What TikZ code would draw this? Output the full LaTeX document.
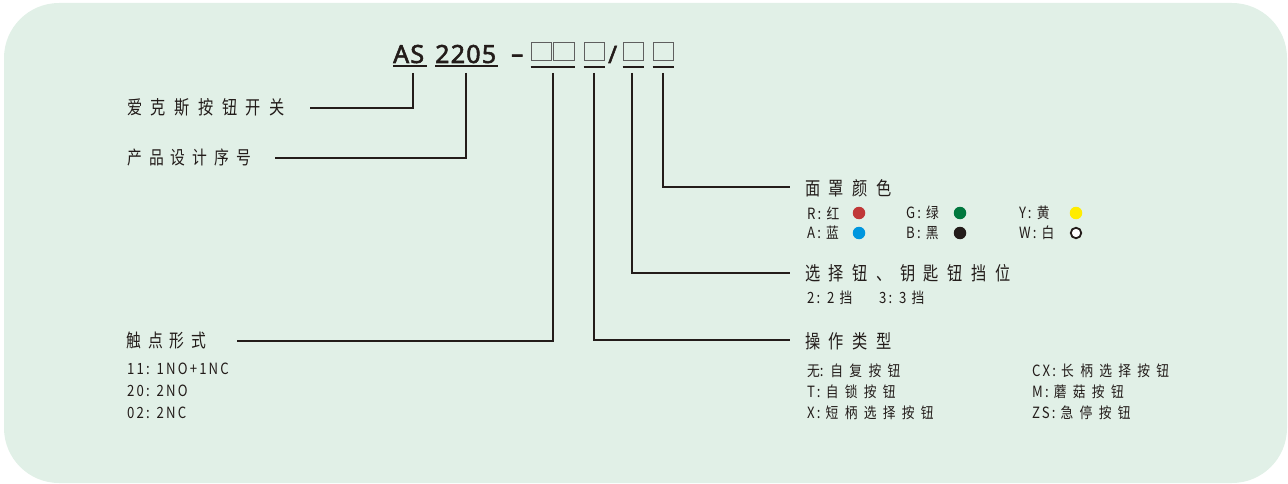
\documentclass[tikz,border=0pt]{standalone}
\usepackage{fontspec}
\setmainfont{Noto Sans CJK SC}
\newfontfamily\titlefont[FakeBold=2.2,LetterSpace=5]{Noto Sans}
\newfontfamily\bigcjk[LetterSpace=45,FakeStretch=0.8]{Noto Sans CJK SC}
\newfontfamily\midcjk[LetterSpace=38,FakeStretch=0.8]{Noto Sans CJK SC}
\newfontfamily\subL[LetterSpace=14,FakeStretch=0.85]{Noto Sans CJK SC}
\newfontfamily\subC[LetterSpace=42,FakeStretch=0.85]{Noto Sans CJK SC}
\newcommand\mylat[1]{{\subL\fontsize{15.5}{16}\selectfont #1}}
\newcommand\myhan[1]{{\subC\fontsize{15}{16}\selectfont #1}}
\usetikzlibrary{calc}
\definecolor{bg}{RGB}{225,240,231}
\definecolor{ink}{RGB}{35,28,26}
\definecolor{boxgray}{RGB}{95,95,95}
\definecolor{dred}{RGB}{192,56,56}
\definecolor{dgreen}{RGB}{0,120,62}
\definecolor{dyellow}{RGB}{255,236,0}
\definecolor{dblue}{RGB}{0,150,222}
\tikzset{
  titletxt/.style={inner sep=0pt, text=ink, font=\titlefont\fontsize{25}{25}\selectfont},
  marktxt/.style={inner sep=0pt, text=ink, font=\titlefont\fontsize{24}{24}\selectfont},
  sq/.style={draw=boxgray, line width=1.3pt, inner sep=0pt, minimum width=20.5pt, minimum height=18.5pt},
  uline/.style={draw=ink, line width=2pt},
  conn/.style={draw=ink, line width=2pt},
  biglab/.style={inner sep=0pt, anchor=west, text=ink, font=\bigcjk\fontsize{19}{19}\selectfont},
  midlab/.style={inner sep=0pt, anchor=west, text=ink, font=\midcjk\fontsize{18.5}{19}\selectfont},
  sub/.style={inner sep=0pt, anchor=west, text=ink},
  dot/.style={circle, inner sep=0pt, minimum size=12.5pt},
  ring/.style={circle, inner sep=0pt, minimum size=10.5pt, draw=ink, line width=1.8pt, fill=white}
}
\begin{document}
\begin{tikzpicture}[x=1pt,y=-1pt]
\useasboundingbox (0,0) rectangle (1288,484);
\fill[bg, rounded corners=55pt] (4,3) rectangle (1287,483);

% title
\node[titletxt, anchor=base west] (as) at (393,63) {AS};
\node[titletxt, anchor=base west] (num) at (435,63) {2205};
\node[marktxt, anchor=base west] (dash) at (511,62) {–};
\node[sq] (b1) at (541.5,51.5) {};
\node[sq] (b2) at (564,51.5) {};
\node[sq] (b3) at (594.5,51.5) {};
\node[marktxt, anchor=base west] (sl) at (608,63) {/};
\node[sq] (b4) at (633.5,51.5) {};
\node[sq] (b5) at (663.5,51.5) {};

\draw[uline] (393,66.5) -- (427,66.5);
\draw[uline] (435,66.5) -- (498,66.5);
\draw[uline] ($(b1.south west)+(0,5.5)$) -- ($(b2.south east)+(0,5.5)$);
\draw[uline] ($(b3.south west)+(0,5.5)$) -- ($(b3.south east)+(0,5.5)$);
\draw[uline] ($(b4.south west)+(0,5.5)$) -- ($(b4.south east)+(0,5.5)$);
\draw[uline] ($(b5.south west)+(0,5.5)$) -- ($(b5.south east)+(0,5.5)$);

% connector start/end points
\coordinate (s1) at (413,73);  \coordinate (e1) at (310,108);
\coordinate (s2) at (466,73);  \coordinate (e2) at (275,158);
\coordinate (s3) at (553,73);  \coordinate (e3) at (237,341);
\coordinate (s4) at (594,73);  \coordinate (e4) at (790,340);
\coordinate (s5) at (632,73);  \coordinate (e5) at (790,273);
\coordinate (s6) at (663,73);  \coordinate (e6) at (790,187);
\draw[conn] (s1) |- (e1);
\draw[conn] (s2) |- (e2);
\draw[conn] (s3) |- (e3);
\draw[conn] (s4) |- (e4);
\draw[conn] (s5) |- (e5);
\draw[conn] (s6) |- (e6);

% left labels
\node[biglab] (l1) at (127,107) {爱克斯按钮开关};
\node[midlab] (l2) at (127,157) {产品设计序号};
\node[midlab] (l3) at (126,341) {触点形式};
\node[sub] (c1) at (127,369) {\mylat{11: 1NO+1NC}};
\node[sub] (c2) at (127,391) {\mylat{20: 2NO}};
\node[sub] (c3) at (127,413) {\mylat{02: 2NC}};

% right labels
\node[biglab] (r1) at (805,188) {面罩颜色};
\node[sub] (k1) at (807,213) {\mylat{R: }\myhan{红}};
\node[dot, fill=dred] (d1) at (859,213) {};
\node[sub] (k2) at (906,213) {\mylat{G: }\myhan{绿}};
\node[dot, fill=dgreen] (d2) at (960,213) {};
\node[sub] (k3) at (1019,213) {\mylat{Y: }\myhan{黄}};
\node[dot, fill=dyellow] (d3) at (1076,213) {};
\node[sub] (k4) at (807,233) {\mylat{A: }\myhan{蓝}};
\node[dot, fill=dblue] (d4) at (859,233) {};
\node[sub] (k5) at (906,233) {\mylat{B: }\myhan{黑}};
\node[dot, fill=ink] (d5) at (960,233) {};
\node[sub] (k6) at (1019,233) {\mylat{W: }\myhan{白}};
\node[ring] (d6) at (1076,233) {};

\node[biglab] (r2) at (805,273) {选择钮、钥匙钮挡位};
\node[sub] (p1) at (807,298) {\mylat{2: 2 }\myhan{挡}};
\node[sub] (p2) at (879,298) {\mylat{3: 3 }\myhan{挡}};

\node[biglab] (r3) at (805,341) {操作类型};
\node[sub] (o1) at (807,371) {\myhan{无}\mylat{: }\myhan{自复按钮}};
\node[sub] (o2) at (807,392) {\mylat{T: }\myhan{自锁按钮}};
\node[sub] (o3) at (807,413) {\mylat{X: }\myhan{短柄选择按钮}};
\node[sub] (o4) at (1032,371) {\mylat{CX: }\myhan{长柄选择按钮}};
\node[sub] (o5) at (1032,392) {\mylat{M: }\myhan{蘑菇按钮}};
\node[sub] (o6) at (1032,413) {\mylat{ZS: }\myhan{急停按钮}};
\end{tikzpicture}
\end{document}
